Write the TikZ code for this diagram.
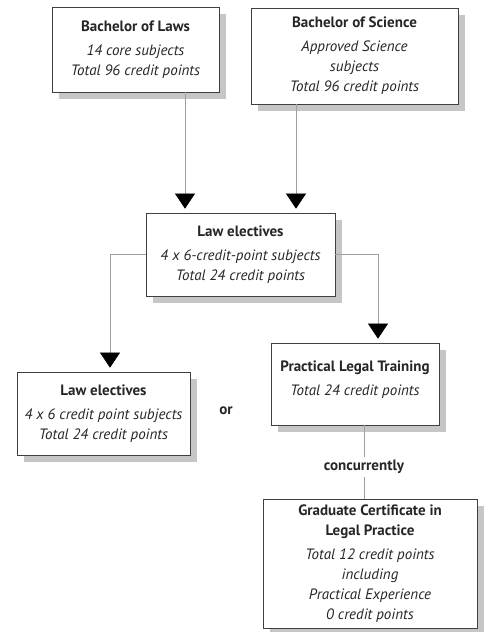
\documentclass[tikz,border=0pt]{standalone}
\usepackage{fontspec}
\setmainfont{PT Sans}
\usetikzlibrary{arrows.meta,shadows}

\tikzset{
    course/.style={draw=black!75, line width=0.7pt, fill=white, inner sep=0pt,
        align=center, text=black!85, font=\fontsize{15}{20}\selectfont,
        drop shadow={shadow xshift=7pt, shadow yshift=-7pt, fill=gray!45, opacity=1}},
    link/.style={draw=gray!75, line width=0.6pt},
    arr/.style={link, -{Triangle[width=20pt,length=15pt,color=black]}, shorten >=4pt},
    word/.style={text=black!85, font=\fontsize{15}{18}\selectfont\bfseries}
}
\newcommand{\ttl}[1]{\textbf{#1}\\[4pt]}

\begin{document}
\begin{tikzpicture}[x=1pt, y=-1pt]
    \useasboundingbox (0,0) rectangle (486,632);
    % Draw the course boxes
    \node[course, minimum width=167, minimum height=85] (law) at (135.5,49.5)
        {\ttl{Bachelor of Laws}\textit{14 core subjects}\\\textit{Total 96 credit points}};
    \node[course, minimum width=207, minimum height=96] (sci) at (354.5,56)
        {\ttl{Bachelor of Science}\textit{Approved Science}\\\textit{subjects}\\\textit{Total 96 credit points}};
    \node[course, minimum width=189, minimum height=83] (mid) at (240.5,254.5)
        {\ttl{Law electives}\textit{4 x 6-credit-point subjects}\\\textit{Total 24 credit points}};
    \node[course, minimum width=173, minimum height=83] (left) at (103.5,413.5)
        {\ttl{Law electives}\textit{4 x 6 credit point subjects}\\\textit{Total 24 credit points}};
    \node[course, minimum width=168, minimum height=82] (plt) at (355,384)
        {\ttl{Practical Legal Training}\textit{Total 24 credit points}\\[-8pt]};
    \node[course, minimum width=214, minimum height=129] (gc) at (370,563.5)
        {\textbf{Graduate Certificate in}\\\ttl{Legal Practice}\textit{Total 12 credit points}\\\textit{including}\\\textit{Practical Experience}\\\textit{0 credit points}};
    % Words between the boxes
    \node[word] (or) at (226,411) {or};
    \node[word] (conc) at (364,467) {concurrently};
    % Draw the connectors
    \draw[arr] ([xshift=49.5]law.south) -- ([xshift=49.5]law.south |- mid.north);
    \draw[arr] ([xshift=-58.5]sci.south) -- ([xshift=-58.5]sci.south |- mid.north);
    \draw[arr] (mid.west) -| ([xshift=6.5]left.north);
    \draw[arr] (mid.east) -| ([xshift=23]plt.north);
    \draw[link] ([xshift=9]plt.south) -- (conc.north);
    \draw[link] (conc.south) -- (conc.south |- gc.north);
\end{tikzpicture}
\end{document}
